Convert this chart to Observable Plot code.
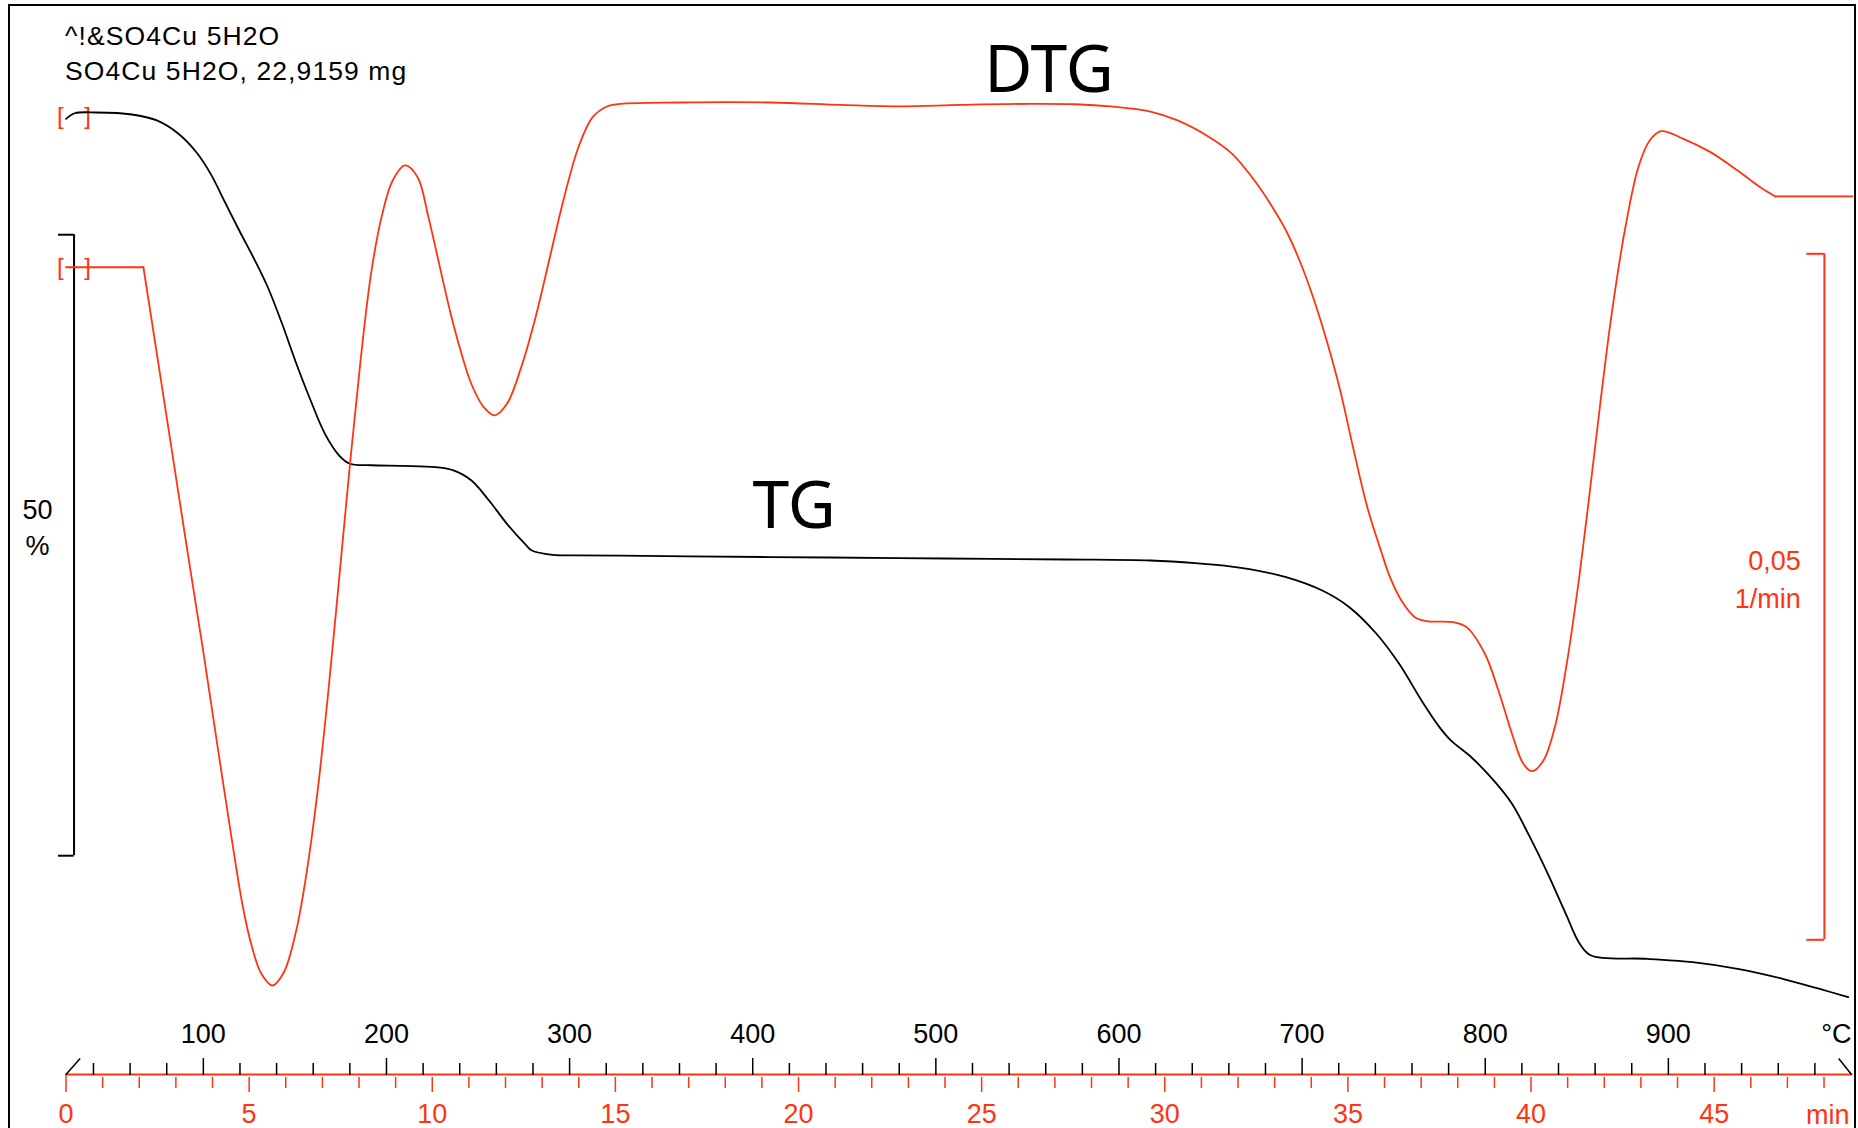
<!DOCTYPE html>
<html><head><meta charset="utf-8">
<script src="https://cdn.jsdelivr.net/npm/d3@7"></script>
<script src="https://cdn.jsdelivr.net/npm/@observablehq/plot@0.6"></script>
<style>
html,body{margin:0;padding:0;background:#fff;}
#wrap{position:relative;width:1858px;height:1128px;overflow:hidden;background:#fff;font-family:"Liberation Sans",Arial,sans-serif;}
#wrap svg{position:absolute;left:0;top:0;}
#frame{position:absolute;left:8px;top:4px;width:1848px;height:1140px;border:2px solid #000;box-sizing:border-box;}
.title{position:absolute;left:65px;font-size:26.5px;line-height:26.5px;letter-spacing:1.1px;color:#000;white-space:nowrap;}
</style></head>
<body>
<div id="wrap">
  <div id="frame"></div>
  <div class="title" style="top:22.6px"></div>
  <div class="title" style="top:57.6px"></div>
</div>
<script>
// ---------- data ----------
// TG: time (min) vs mass (%)
const tgTime = [0.00,0.24,0.82,1.80,2.48,3.07,3.56,3.95,4.34,4.73,5.16,5.51,5.90,6.29,6.68,7.07,7.46,7.75,8.33,9.21,10.09,10.58,11.07,11.55,12.04,12.53,12.72,13.31,13.9,15.14,17.0,20.86,24.0,27.33,29.61,30.84,32.08,33.31,34.30,35.04,35.78,36.40,37.01,37.50,37.81,38.37,38.98,39.48,39.97,40.46,40.95,41.33,41.64,43.18,44.41,45.64,46.87,47.86,48.66];
const tgMass = [99.53,99.98,100.04,99.88,99.40,98.33,96.84,95.10,92.82,90.54,88.12,85.97,83.03,79.81,76.85,74.17,72.42,71.76,71.64,71.59,71.48,71.22,70.41,68.80,66.92,65.31,64.77,64.42,64.38,64.37,64.30,64.21,64.13,64.05,63.97,63.75,63.38,62.63,61.55,60.21,58.07,55.65,52.70,50.55,49.48,48.13,46.26,44.38,41.69,38.74,35.52,33.11,32.17,31.90,31.63,31.09,30.29,29.49,28.81];
// DTG: time (min) vs rate (1/min)
const dtgTime = [0.00,2.114,2.714,3.312,3.752,4.113,4.511,4.822,5.068,5.330,5.634,5.945,6.286,6.578,6.871,7.165,7.458,7.750,8.042,8.334,8.626,8.919,9.260,9.601,9.896,10.188,10.481,10.773,11.065,11.406,11.701,12.040,12.430,12.821,13.211,13.602,13.992,14.380,14.771,15.142,16.78,19.24,21.15,22.79,24.43,26.34,27.57,28.52,29.61,30.35,31.22,31.84,32.45,32.94,33.31,33.68,34.05,34.42,34.79,35.16,35.53,35.90,36.15,36.46,36.83,37.14,37.88,38.24,38.74,39.11,39.48,39.79,40.03,40.34,40.65,40.96,41.267,41.576,41.884,42.19,42.56,42.93,43.24,43.55,44.16,44.90,45.64,46.26,46.67,48.78];
const dtgRate = [-0.01230,-0.01230,-0.02262,-0.03294,-0.04038,-0.04679,-0.05372,-0.05882,-0.06174,-0.06378,-0.06465,-0.06370,-0.06064,-0.05627,-0.05044,-0.04315,-0.03499,-0.02675,-0.01910,-0.01268,-0.00853,-0.00598,-0.00488,-0.00574,-0.00865,-0.01205,-0.01545,-0.01837,-0.02079,-0.02250,-0.02310,-0.02225,-0.01958,-0.01594,-0.01157,-0.00719,-0.00355,-0.00136,-0.00058,-0.00039,-0.00029,-0.00029,-0.00047,-0.00058,-0.00047,-0.00039,-0.00042,-0.00058,-0.00095,-0.00160,-0.00282,-0.00403,-0.00598,-0.00792,-0.00962,-0.01181,-0.01448,-0.01764,-0.02128,-0.02566,-0.02979,-0.03294,-0.03489,-0.03659,-0.03781,-0.03810,-0.03817,-0.03853,-0.04047,-0.04315,-0.04630,-0.04849,-0.04903,-0.04825,-0.04582,-0.04145,-0.03586,-0.02930,-0.02238,-0.01594,-0.00962,-0.00501,-0.00306,-0.00238,-0.00294,-0.00391,-0.00525,-0.00647,-0.00714,-0.00714];
const dtgCorners = [2.114, 46.67]; // sharp corners of the DTG trace
// axes
const timeLabels = [0,5,10,15,20,25,30,35,40,45];
const tempLabels = [100,200,300,400,500,600,700,800,900];
const T0 = 25, RATE = 20; // start temperature (°C), heating rate (K/min)
const titleLines = ["^!&SO4Cu 5H2O", "SO4Cu 5H2O, 22,9159 mg"];

// ---------- build ----------
const red = "#ff3410";
const font = '"Liberation Sans", Arial, sans-serif';
const hand = '"Comic Sans MS", "Noto Sans", "DejaVu Sans", sans-serif';
const W = 1858, H = 1128, mL = 65.5, mR = 7;
const xDomain = [0, 48.75];
const toTime = T => (T - T0) / RATE;
const timeMinor = d3.range(1, 49).filter(t => t % 5 !== 0);
const tempMinorT = d3.range(40, 981, 20).filter(T => T % 100 !== 0).map(toTime);
const tempMajorT = tempLabels.map(toTime);

const tg = tgTime.map((t, i) => ({t, m: tgMass[i]}));
// split the DTG trace at its corners (corner points shared by both pieces)
const dtg = [];
let seg = 0;
dtgTime.forEach((t, i) => {
  dtg.push({t, d: dtgRate[i], seg});
  if (dtgCorners.includes(t)) { seg++; dtg.push({t, d: dtgRate[i], seg}); }
});

const tgY = {domain: [100, 30], range: [112.5, 981.9]};
const dtgY = {domain: [0, -0.06], range: [98, 921.2]};
const dtgInv = d3.scaleLinear(dtgY.range, dtgY.domain);

const common = {
  width: W, height: H, marginLeft: mL, marginRight: mR,
  style: {background: "transparent", fontFamily: font, overflow: "visible"}
};

const p1 = Plot.plot({
  ...common, marginTop: 5, marginBottom: 54,
  x: {domain: xDomain, axis: null},
  y: {...tgY, axis: null},
  marks: [
    Plot.frame({anchor: "bottom", stroke: red, strokeWidth: 2}),
    Plot.axisX(timeMinor, {anchor: "bottom", tickSize: 11, dy: 3, fill: "none", stroke: red, strokeWidth: 1.5, label: null}),
    Plot.axisX(timeLabels.slice(1), {anchor: "bottom", tickSize: 15, dy: 3, fill: "none", stroke: red, strokeWidth: 1.5, label: null}),
    Plot.axisX([0], {anchor: "bottom", tickSize: 18, fill: "none", stroke: red, strokeWidth: 1.5, label: null}),
    Plot.axisX(timeLabels, {anchor: "bottom", tickSize: 15, tickPadding: 14, stroke: "none", fill: red, fontSize: 27, label: null}),
    Plot.text(["min"], {text: d => d, frameAnchor: "bottom-right", dx: -2, dy: 49, textAnchor: "end", lineAnchor: "bottom", fill: red, fontSize: 27}),
    // TG scale bar (50 %)
    Plot.ruleX([0.22], {y1: 90.2, y2: 40.2, stroke: "black", strokeWidth: 2}),
    Plot.ruleY([90.2, 40.2], {x1: -0.205, x2: 0.22, stroke: "black", strokeWidth: 2}),
    Plot.text(["50"], {text: d => d, x: -0.78, y: 68.0, fontSize: 27, fill: "black"}),
    Plot.text(["%"], {text: d => d, x: -0.78, y: 65.1, fontSize: 27, fill: "black"}),
    // start marker
    Plot.text(["["], {text: d => d, x: tgTime[0], y: 99.72, dx: -9, textAnchor: "start", fontSize: 24, fill: red}),
    Plot.text(["]"], {text: d => d, x: tgTime[0], y: 99.72, dx: 25, textAnchor: "end", fontSize: 24, fill: red}),
    // TG curve
    Plot.line(tg, {x: "t", y: "m", stroke: "black", strokeWidth: 1.8, curve: "catmull-rom"}),
    Plot.text(["TG"], {text: d => d, x: 19.88, y: 68.3, fontSize: 66, fontFamily: hand, fill: "black"})
  ]
});

const p2 = Plot.plot({
  ...common, marginTop: 1074, marginBottom: 0,
  x: {domain: xDomain, axis: null},
  y: {...dtgY, axis: null},
  marks: [
    Plot.axisX(tempMinorT, {anchor: "top", tickSize: 12, fill: "none", stroke: "black", strokeWidth: 1.5, label: null}),
    Plot.axisX(tempMajorT, {anchor: "top", tickSize: 17, tickPadding: 15, stroke: "black", fill: "black", strokeWidth: 1.5, fontSize: 27, label: null,
      tickFormat: t => String(Math.round(T0 + RATE * t))}),
    Plot.text(["°C"], {text: d => d, frameAnchor: "top-right", dx: 0, dy: -32, textAnchor: "end", lineAnchor: "bottom", fill: "black", fontSize: 27}),
    Plot.link([0], {x1: 0, x2: 0.385, y1: dtgInv(1074), y2: dtgInv(1058), stroke: "black", strokeWidth: 1.5}),
    Plot.link([0], {x1: 48.40, x2: 48.75, y1: dtgInv(1058), y2: dtgInv(1074), stroke: "black", strokeWidth: 1.5}),
    // DTG scale bar (0,05 1/min)
    Plot.ruleX([48.01], {y1: -0.01132, y2: -0.06132, stroke: red, strokeWidth: 2}),
    Plot.ruleY([-0.01132, -0.06132], {x1: 47.53, x2: 48.01, stroke: red, strokeWidth: 2}),
    Plot.text(["0,05"], {text: d => d, x: 47.365, y: -0.03440, textAnchor: "end", lineAnchor: "bottom", fill: red, fontSize: 27}),
    Plot.text(["1/min"], {text: d => d, x: 47.365, y: -0.03717, textAnchor: "end", lineAnchor: "bottom", fill: red, fontSize: 27}),
    // start marker
    Plot.text(["["], {text: d => d, x: dtgTime[0], y: dtgRate[0], dx: -9, textAnchor: "start", fontSize: 24, fill: red}),
    Plot.text(["]"], {text: d => d, x: dtgTime[0], y: dtgRate[0], dx: 25, textAnchor: "end", fontSize: 24, fill: red}),
    // DTG curve
    Plot.line(dtg, {x: "t", y: "d", z: "seg", stroke: red, strokeWidth: 1.8, curve: "catmull-rom"}),
    Plot.text(["DTG"], {text: d => d, x: 26.84, y: 0.00204, fontSize: 66, fontFamily: hand, fill: "black"})
  ]
});

const wrap = document.getElementById("wrap");
wrap.appendChild(p1);
wrap.appendChild(p2);
wrap.querySelectorAll(".title").forEach((el, i) => { el.textContent = titleLines[i]; });
</script>
</body></html>
